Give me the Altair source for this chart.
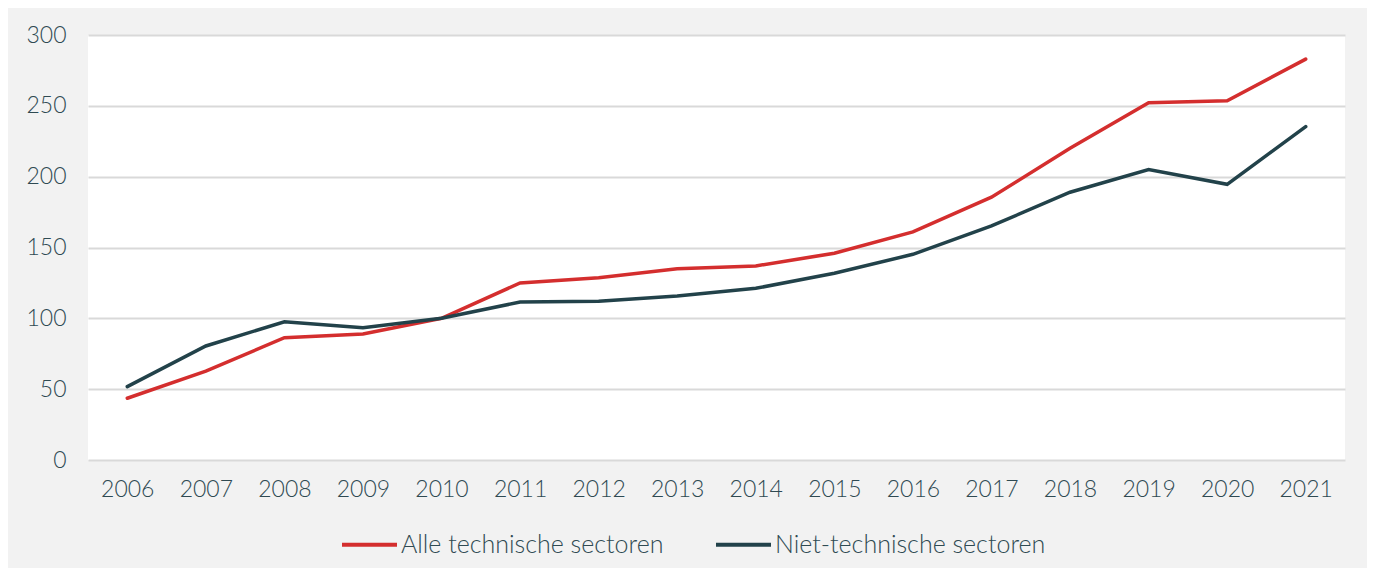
import altair as alt
import pandas as pd

years = [str(y) for y in range(2006, 2022)]
alle_technische = [43.6, 62.8, 86.3, 88.9, 100.0, 125.0, 128.7, 135.0, 137.0, 146.0, 161.0, 185.5, 220.0, 252.2, 253.6, 283.0]
niet_technische = [51.8, 80.5, 97.6, 93.4, 100.0, 111.5, 112.0, 115.8, 121.2, 131.8, 145.2, 165.2, 189.0, 205.0, 194.6, 235.3]
series_names = ["Alle technische sectoren", "Niet-technische sectoren"]
series_colors = ["#d42e2e", "#22424a"]

rows = []
for i, y in enumerate(years):
    rows.append({"jaar": y, "reeks": series_names[0], "waarde": alle_technische[i]})
    rows.append({"jaar": y, "reeks": series_names[1], "waarde": niet_technische[i]})
df = pd.DataFrame(rows)

text_color = "#2f4a52"
font = "Lato"

chart = alt.Chart(df).mark_line(strokeWidth=3.5, strokeCap="round", strokeJoin="miter").encode(
    x=alt.X("jaar:N", sort=years, title=None,
            scale=alt.Scale(paddingInner=1, paddingOuter=0.5),
            axis=alt.Axis(labelAngle=0, labelFontSize=23, labelColor=text_color, labelFont=font,
                          labelFontWeight=300,
                          labelPadding=18, ticks=False, domain=False, grid=False)),
    y=alt.Y("waarde:Q", title=None,
            scale=alt.Scale(domain=[0, 300], nice=False),
            axis=alt.Axis(values=[0, 50, 100, 150, 200, 250, 300], labelFontSize=23,
                          labelColor=text_color, labelFont=font, labelFontWeight=300, labelPadding=22,
                          ticks=False, domain=False, grid=True, gridColor="#d9d9d9", gridWidth=2)),
    color=alt.Color("reeks:N", title=None,
                    scale=alt.Scale(domain=series_names, range=series_colors),
                    legend=alt.Legend(orient="none", legendX=252, legendY=480, direction="horizontal",
                                      symbolType="stroke", symbolSize=3025, symbolStrokeWidth=4,
                                      labelFontSize=25, labelColor=text_color,
                                      labelFont=font, labelFontWeight=300,
                                      labelLimit=0, labelOffset=2, columnPadding=44)),
).properties(
    width=1257, height=425,
    background="#f2f2f2",
    padding={"left": 80, "top": 27, "right": 22, "bottom": 108},
    autosize=alt.AutoSizeParams(type="none"),
).configure_view(fill="white", stroke=None)

chart.save("out.html", embed_options={"renderer": "svg", "actions": False})
